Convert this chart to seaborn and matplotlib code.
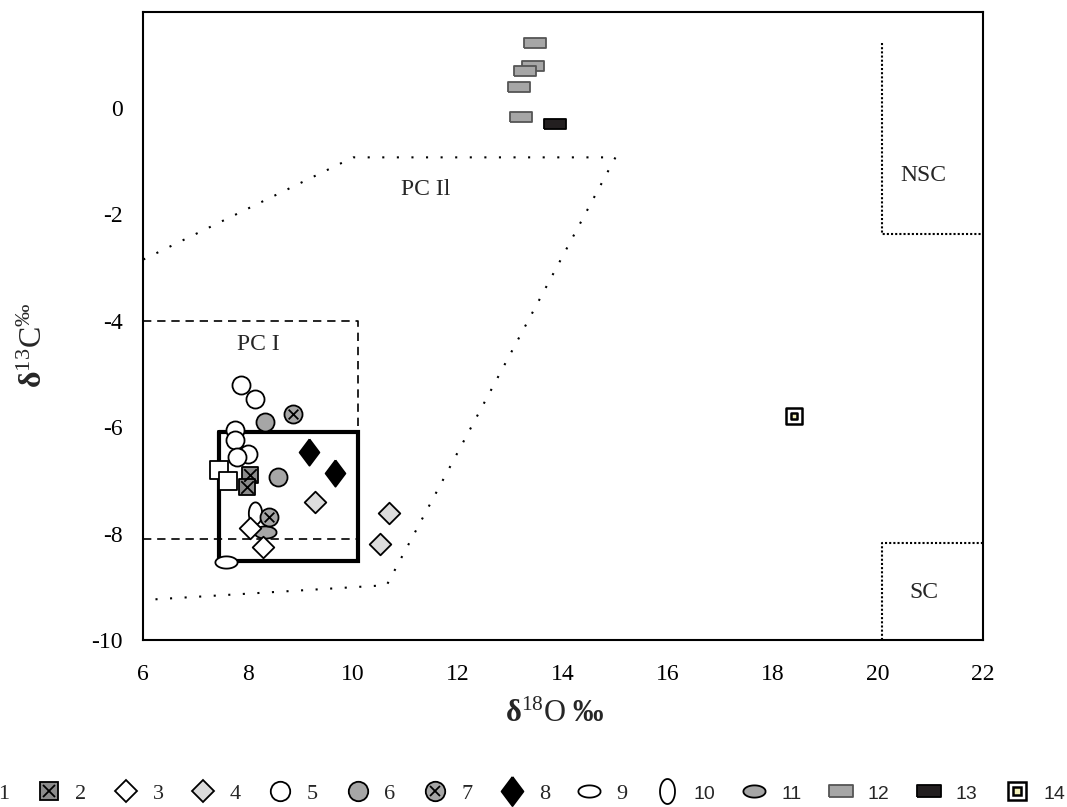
import matplotlib
matplotlib.use("Agg")
import matplotlib.pyplot as plt
import seaborn as sns
import numpy as np
from matplotlib.lines import Line2D

# ---------------- data ----------------
x1, y1 = [7.45, 7.62], [-6.81, -7.01]                      # open squares
x2, y2 = [8.04, 7.97], [-6.90, -7.13]                      # crossed squares
x3, y3 = [8.04, 8.29], [-7.90, -8.25]                      # open diamonds
x4, y4 = [9.28, 10.68, 10.52], [-7.41, -7.62, -8.19]       # light grey diamonds
x5 = [7.86, 8.13, 7.75, 7.75, 8.00, 7.78]                  # open circles
y5 = [-5.20, -5.48, -6.06, -6.25, -6.50, -6.56]
x6, y6 = [8.32, 8.56], [-5.91, -6.93]                      # grey circles
x7, y7 = [8.86, 8.40], [-5.76, -7.69]                      # crossed circles
x8, y8 = [9.15, 9.66], [-6.47, -6.87]                      # black diamonds
x9, y9 = [7.57], [-8.53]                                   # open horizontal ellipse
x10, y10 = [8.12], [-7.62]                                 # open vertical ellipse
x11, y11 = [8.32], [-7.97]                                 # grey ellipse
x12 = [13.46, 13.42, 13.27, 13.17, 13.20]                  # grey rectangles
y12 = [1.22, 0.79, 0.69, 0.39, -0.17]
x13, y13 = [13.84], [-0.31]                                # black rectangle
x14, y14 = [18.40], [-5.80]                                # double square

# field outlines
box_x = [7.45, 10.1, 10.1, 7.45, 7.45]
box_y = [-6.1, -6.1, -8.52, -8.52, -6.1]
pc1_top_x, pc1_top_y = [6, 10.1, 10.1], [-4.0, -4.0, -6.1]
pc1_bot_x, pc1_bot_y = [6, 10.1], [-8.1, -8.1]
pc2_x = [6.0, 10.0, 15.0, 10.64, 6.0]
pc2_y = [-2.85, -0.93, -0.93, -8.97, -9.25]
nsc_x, nsc_y = [20.08, 20.08, 22], [1.21, -2.37, -2.37]
sc_x, sc_y = [20.08, 20.08, 22], [-10, -8.18, -8.18]

xticks = [6, 8, 10, 12, 14, 16, 18, 20, 22]
yticks = [0, -2, -4, -6, -8, -10]
legend_labels = [str(i) for i in range(1, 15)]

# ---------------- style ----------------
sns.set_style("white")
plt.rcParams['font.family'] = ['Liberation Serif', 'DejaVu Serif']
plt.rcParams['mathtext.fontset'] = 'custom'
plt.rcParams['mathtext.rm'] = 'Liberation Serif'
plt.rcParams['mathtext.it'] = 'Liberation Serif:italic'
plt.rcParams['mathtext.bf'] = 'Liberation Serif:bold'

fig = plt.figure(figsize=(10.67, 8.07), dpi=100)
ax = fig.add_axes([0.1343, 0.207, 0.7867, 0.778])

# marker shapes
t = np.linspace(0, 2 * np.pi, 60)
ell_h = np.column_stack([np.cos(t), 0.55 * np.sin(t)])
ell_v = np.column_stack([0.6 * np.cos(t), np.sin(t)])
rect_m = np.array([[-1, -0.48], [1, -0.48], [1, 0.48], [-1, 0.48], [-1, -0.48]])
tall_d = np.array([[0, 1], [0.75, 0], [0, -1], [-0.75, 0], [0, 1]])

K = "black"

def pts(x, y, marker, size, fc, ec=K, lw=1.3, z=3):
    sns.scatterplot(x=x, y=y, ax=ax, marker=marker, s=size ** 2, color=fc,
                    edgecolor=ec, linewidth=lw, zorder=z, legend=False)

def xover(x, y, size, z):
    ax.scatter(x, y, marker='x', s=size ** 2, color=K, linewidths=1.3, zorder=z)

# outlines
ax.plot(box_x, box_y, color=K, lw=3.0, zorder=2, solid_joinstyle='miter')
ax.plot(pc1_top_x, pc1_top_y, color=K, lw=1.2, ls=(0, (5, 3.5)), zorder=1)
ax.plot(pc1_bot_x, pc1_bot_y, color=K, lw=1.2, ls=(0, (5, 3.5)), zorder=1)
ax.plot(pc2_x, pc2_y, color=K, lw=1.5, ls=(0, (1, 6)), zorder=1)
ax.plot(nsc_x, nsc_y, color=K, lw=1.5, ls=(0, (1, 1)), zorder=1)
ax.plot(sc_x, sc_y, color=K, lw=1.5, ls=(0, (1, 1)), zorder=1)

# points
pts(x9, y9, ell_h, 16, "white", z=3)
pts(x10, y10, ell_v, 16, "white", z=3)
pts(x11, y11, ell_h, 16, "#a6a6a6", z=3)
pts(x7, y7, 'o', 13, "#a6a6a6", z=4); xover(x7, y7, 7, 4.1)
pts(x3, y3, 'D', 11, "white", z=5)
pts(x4, y4, 'D', 11, "#dcdcdc", z=5)
pts(x5, y5, 'o', 13, "white", z=4)
pts(x6, y6, 'o', 13, "#a6a6a6", z=4)
pts(x2, y2, 's', 12, "#8c8c8c", z=5); xover(x2, y2, 9, 5.1)
pts(x1, y1, 's', 13, "white", z=5.2)
pts(x8, y8, tall_d, 19, "black", z=5)
pts(x12, y12, rect_m, 16, "#a6a6a6", ec="#555555", z=3)
pts(x13, y13, rect_m, 16, "#231f20", z=3)
pts(x14, y14, 's', 12, "white", lw=1.8, z=3)
pts(x14, y14, 's', 5, "#f3f0b8", lw=1.8, z=3.1)

# region labels
ax.text(8.19, -4.45, "PC I", fontsize=17, ha='center', va='center')
ax.text(11.38, -1.54, "PC Il", fontsize=17, ha='center', va='center')
ax.text(20.86, -1.28, "NSC", fontsize=17, ha='center', va='center')
ax.text(20.88, -9.1, "SC", fontsize=17, ha='center', va='center')

# axes
ax.set_xlim(6, 22)
ax.set_ylim(-10, 1.8)
ax.set_xticks(xticks)
ax.set_yticks(yticks)
ax.set_xticklabels([str(v) for v in xticks])
ax.set_yticklabels([str(v) for v in yticks])
ax.tick_params(length=0, labelsize=17, colors=K)
ax.tick_params(axis='x', pad=17)
ax.tick_params(axis='y', pad=15)
for s in ax.spines.values():
    s.set_color(K)
    s.set_linewidth(1.5)
ax.set_xlabel("")
ax.set_ylabel("")

ax.text(0.49, -0.119, r'$\mathbf{δ}^{\mathrm{18}}\mathrm{O}\ \mathbf{‰}$', fontsize=22,
        transform=ax.transAxes, ha='center', va='center')
ax.text(-0.13, 0.47, r'$\mathbf{δ}^{\mathrm{13}}\mathrm{C}^{‰}$', fontsize=23, rotation=90,
        transform=ax.transAxes, ha='center', va='center')

# legend
def h(marker, size, fc, ec=K, lw=1.3):
    return Line2D([], [], ls='none', marker=marker, markersize=size,
                  markerfacecolor=fc, markeredgecolor=ec, markeredgewidth=lw)

handles = [
    h('s', 13, "white"),
    (h('s', 13, "#8c8c8c"), h('x', 9, K)),
    h('D', 11, "white"),
    h('D', 11, "#dcdcdc"),
    h('o', 14, "white"),
    h('o', 14, "#a6a6a6"),
    (h('o', 14, "#a6a6a6"), h('x', 7.5, K)),
    h(tall_d, 21, "black"),
    h(ell_h, 16, "white"),
    h(ell_v, 18, "white"),
    h(ell_h, 16, "#a6a6a6"),
    h(rect_m, 17, "#a6a6a6", ec="#555555"),
    h(rect_m, 17, "#231f20"),
    (h('s', 13, "white", lw=1.8), h('s', 5.5, "#f3f0b8", lw=1.8)),
]
leg = fig.legend(handles, legend_labels, ncol=14, loc='center',
                 bbox_to_anchor=(0.479, 0.0165), frameon=False, fontsize=16,
                 handlelength=1.3, handletextpad=0.55, columnspacing=1.125,
                 borderaxespad=0, borderpad=0)
for i, txt in enumerate(leg.get_texts()):
    if i >= 9:
        txt.set_fontfamily(['Liberation Sans', 'DejaVu Sans'])
        txt.set_fontsize(14)

fig.savefig("out.png", dpi=100)
